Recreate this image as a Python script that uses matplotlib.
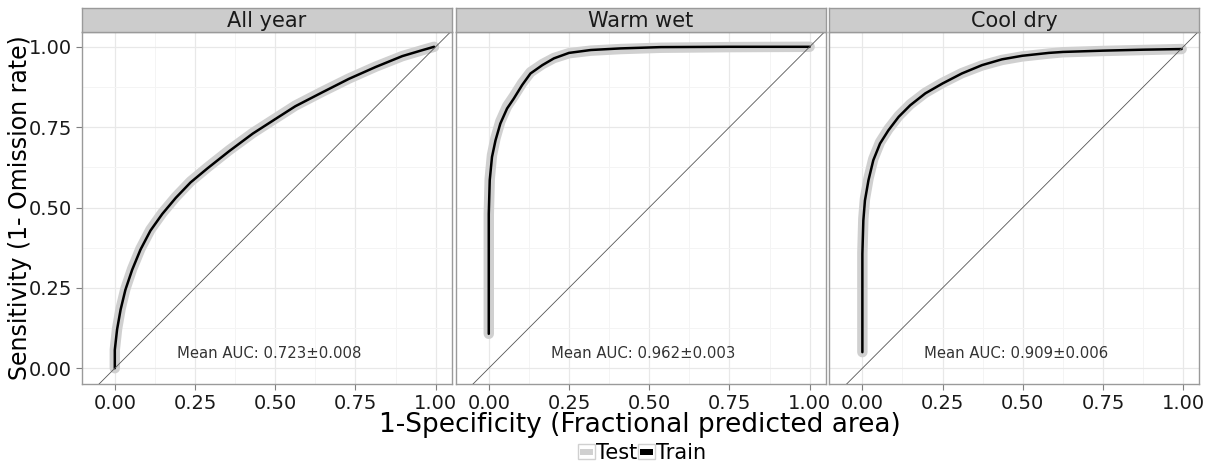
import matplotlib.pyplot as plt
from matplotlib.lines import Line2D
from matplotlib.patches import Rectangle

plt.rcParams['font.family'] = ['DejaVu Sans']

# ROC curves per season: 1-specificity (x) and sensitivity (y)
panels = ['All year', 'Warm wet', 'Cool dry']
auc_text = ['Mean AUC: 0.723\u00b10.008', 'Mean AUC: 0.962\u00b10.003', 'Mean AUC: 0.909\u00b10.006']

all_x = [0.0, 0.0, 0.007, 0.018, 0.033, 0.054, 0.08, 0.111, 0.148, 0.19, 0.236,
         0.289, 0.356, 0.43, 0.5, 0.5625, 0.646, 0.729, 0.8125, 0.896, 0.96, 0.995]
all_train = [0.0, 0.057, 0.12, 0.182, 0.244, 0.306, 0.369, 0.428, 0.48, 0.53, 0.578,
             0.622, 0.675, 0.73, 0.775, 0.815, 0.858, 0.9, 0.937, 0.971, 0.99, 1.0]
all_test = [0.0, 0.058, 0.122, 0.185, 0.247, 0.309, 0.372, 0.431, 0.483, 0.533, 0.581,
            0.625, 0.678, 0.732, 0.777, 0.817, 0.86, 0.901, 0.938, 0.971, 0.99, 1.0]

warm_x = [0.0, 0.0, 0.003, 0.010, 0.021, 0.036, 0.057, 0.078, 0.104, 0.130, 0.167,
          0.203, 0.25, 0.318, 0.411, 0.536, 0.75, 1.0]
warm_train = [0.107, 0.48, 0.585, 0.657, 0.709, 0.761, 0.808, 0.839, 0.881, 0.917, 0.943,
              0.964, 0.981, 0.99, 0.995, 0.999, 1.0, 1.0]
warm_test = [0.107, 0.48, 0.59, 0.663, 0.716, 0.768, 0.815, 0.846, 0.887, 0.921, 0.946,
             0.965, 0.98, 0.988, 0.993, 0.997, 0.999, 1.0]

cool_x = [0.0, 0.0, 0.003, 0.008, 0.019, 0.034, 0.055, 0.081, 0.113, 0.149, 0.196,
          0.25, 0.31, 0.373, 0.435, 0.498, 0.581, 0.625, 0.75, 0.875, 0.995]
cool_train = [0.05, 0.356, 0.46, 0.522, 0.585, 0.647, 0.699, 0.74, 0.782, 0.818, 0.855,
              0.886, 0.917, 0.943, 0.961, 0.972, 0.981, 0.984, 0.988, 0.991, 0.993]
cool_test = [0.05, 0.36, 0.465, 0.527, 0.59, 0.651, 0.703, 0.744, 0.785, 0.821, 0.857,
             0.888, 0.918, 0.942, 0.959, 0.97, 0.979, 0.983, 0.987, 0.99, 0.993]

curves = [(all_x, all_train, all_test),
          (warm_x, warm_train, warm_test),
          (cool_x, cool_train, cool_test)]

fig = plt.figure(figsize=(12.13, 4.66), dpi=100)
lefts = [0.0674, 0.3757, 0.6837]
bottom, height, width = 0.1753, 0.7567, 0.305
strip_h = 23.4 / 466

ticks = [0.0, 0.25, 0.5, 0.75, 1.0]
minor = [0.125, 0.375, 0.625, 0.875]

for i, (name, (x, tr, te)) in enumerate(zip(panels, curves)):
    ax = fig.add_axes([lefts[i], bottom, width, height])
    ax.set_xlim(-0.103, 1.05)
    ax.set_ylim(-0.05, 1.047)
    ax.set_xticks(ticks)
    ax.set_xticks(minor, minor=True)
    ax.set_yticks(ticks)
    ax.set_yticks(minor, minor=True)
    ax.set_xticklabels(['%.2f' % t for t in ticks])
    if i == 0:
        ax.set_yticklabels(['%.2f' % t for t in ticks])
    else:
        ax.tick_params(axis='y', which='both', left=False, labelleft=False)
    ax.grid(which='major', color='#e8e8e8', lw=0.9)
    ax.grid(which='minor', color='#f4f4f4', lw=0.7)
    ax.set_axisbelow(True)
    ax.tick_params(axis='both', which='major', length=4, width=0.8, color='#7f7f7f',
                   labelsize=14, labelcolor='#1a1a1a', pad=3)
    ax.tick_params(axis='both', which='minor', length=0)
    for s in ax.spines.values():
        s.set_color('#9a9a9a')
        s.set_linewidth(1.0)

    ax.plot(x, te, color='#d0d0d0', lw=7.5, solid_capstyle='round',
            solid_joinstyle='round', zorder=2)
    ax.plot(x, tr, color='black', lw=1.8, solid_capstyle='round',
            solid_joinstyle='round', zorder=3)
    ax.axline((0, 0), slope=1, color='#555555', lw=0.6, zorder=4)
    ax.text(0.48, 0.045, auc_text[i], ha='center', va='center', fontsize=10.7,
            color='#333333')

    # facet strip
    sax = fig.add_axes([lefts[i], bottom + height, width, strip_h])
    sax.set_xticks([])
    sax.set_yticks([])
    sax.set_facecolor('#cccccc')
    for s in sax.spines.values():
        s.set_color('#9a9a9a')
        s.set_linewidth(1.0)
    sax.text(0.5, 0.45, name, ha='center', va='center', fontsize=15, color='#1a1a1a',
             transform=sax.transAxes)

fig.text(640 / 1213, 1 - 425 / 466, '1-Specificity (Fractional predicted area)',
         ha='center', va='center', fontsize=19)
fig.text(20 / 1213, 1 - 208 / 466, 'Sensitivity (1- Omission rate)',
         ha='center', va='center', fontsize=17, rotation=90)


# legend keys: boxed square with a short bar inside
class BoxedKey:
    def legend_artist(self, legend, orig_handle, fontsize, handlebox):
        x0, y0 = -handlebox.xdescent, -handlebox.ydescent
        w, h = handlebox.width, handlebox.height
        box = Rectangle((x0, y0), w, h, facecolor='white', edgecolor='#d0d0d0', lw=1.0,
                        transform=handlebox.get_transform())
        bar = Rectangle((x0 + 1.5, y0 + h / 2 - 2.2), w - 3, 4.4,
                        facecolor=orig_handle.get_color(), edgecolor='none',
                        transform=handlebox.get_transform())
        handlebox.add_artist(box)
        handlebox.add_artist(bar)
        return bar


handles = [Line2D([], [], color='#d0d0d0'), Line2D([], [], color='black')]
fig.legend(handles, ['Test', 'Train'], loc='center',
           bbox_to_anchor=(642 / 1213, 1 - 453 / 466), ncol=2, frameon=False,
           fontsize=15, handlelength=0.8, handleheight=0.75, handletextpad=0.05,
           columnspacing=0.05, handler_map={Line2D: BoxedKey()})

fig.savefig('out.png', dpi=100)
